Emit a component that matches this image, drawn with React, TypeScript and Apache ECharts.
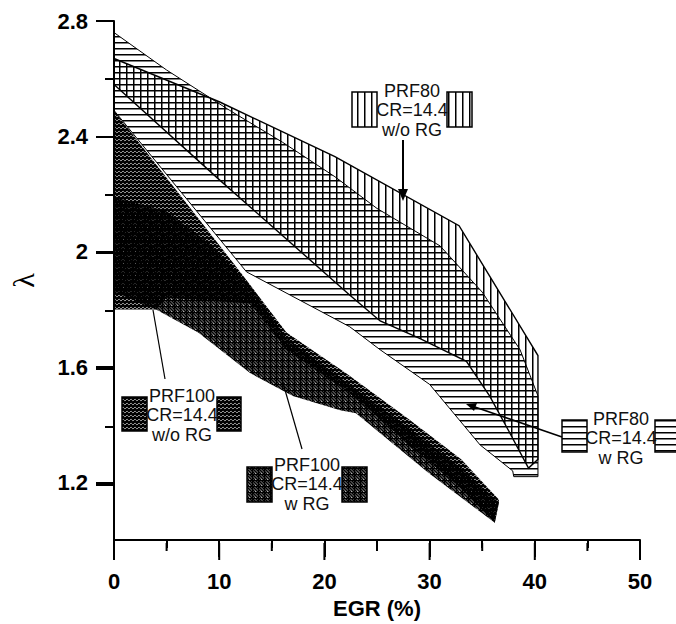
import React, { useEffect, useRef } from "react";
import * as echarts from "echarts";

// Axis ticks
const xTickValues = [0, 10, 20, 30, 40, 50];
const xMinorTicks = [5, 15, 25, 35, 45];
const yMajorTicks = [1.2, 1.6, 2.0, 2.4, 2.8];
const yMinorTicks = [1.4, 1.8, 2.2, 2.6];

// PRF80 CR=14.4 w/o RG (vertical hatch) – outline points
const prf80NoRgX = [0, 10, 21, 32.8, 40.3, 40.3, 39.4, 37.5, 35.7, 33.5, 29, 25.3, 22.4, 10, 0];
const prf80NoRgY = [2.67, 2.52, 2.33, 2.09, 1.64, 1.28, 1.25, 1.38, 1.5, 1.62, 1.7, 1.76, 1.85, 2.25, 2.58];

// PRF80 CR=14.4 w RG (horizontal hatch)
const prf80RgX = [0, 5, 11, 16, 21, 25, 31, 35, 38.6, 40.3, 40.3, 38, 37.9, 34.8, 30, 25.3, 22.4, 12.6, 0];
const prf80RgY = [2.76, 2.63, 2.49, 2.38, 2.26, 2.15, 2.02, 1.86, 1.66, 1.5, 1.22, 1.22, 1.24, 1.33, 1.54, 1.66, 1.74, 1.93, 2.49];

// PRF100 CR=14.4 w/o RG (dark diagonal hatch)
const prf100NoRgX = [0, 6, 12, 16.4, 22, 28, 33, 36.6, 36.2, 33, 28, 25, 22, 16.4, 13, 5, 4, 0];
const prf100NoRgY = [2.49, 2.21, 1.93, 1.72, 1.58, 1.42, 1.28, 1.14, 1.06, 1.18, 1.33, 1.43, 1.52, 1.66, 1.82, 1.84, 1.8, 1.8];

// PRF100 CR=14.4 w RG (dark cross hatch)
const prf100RgX = [0, 5, 9, 13, 16.4, 22, 28, 33, 36.6, 36.2, 30, 26, 23, 21.5, 17, 12.9, 8, 4, 0];
const prf100RgY = [2.19, 2.14, 2.03, 1.88, 1.7, 1.55, 1.39, 1.25, 1.13, 1.06, 1.23, 1.35, 1.44, 1.45, 1.5, 1.58, 1.72, 1.8, 1.86];

const labelPrf80NoRg = "PRF80\nCR=14.4\nw/o RG";
const labelPrf80Rg = "PRF80\nCR=14.4\nw RG";
const labelPrf100NoRg = "PRF100\nCR=14.4\nw/o RG";
const labelPrf100Rg = "PRF100\nCR=14.4\nw RG";

const SANS = "'Liberation Sans', Arial, Helvetica, sans-serif";
const Y_MIN = 1.0;
const Y_MAX = 2.8;
const CHART_W = 676;
const CHART_H = 624;
const GRID = { left: 114, right: 36, top: 21, bottom: 81 };

function makeTile(w: number, h: number, draw: (ctx: CanvasRenderingContext2D) => void) {
  const c = document.createElement("canvas");
  c.width = w;
  c.height = h;
  const ctx = c.getContext("2d") as CanvasRenderingContext2D;
  draw(ctx);
  return c;
}

function polygonSeries(name: string, xs: number[], ys: number[], fill: any, stroke: string | null, lw: number, z: number) {
  const data = xs.map((x, i) => [x, ys[i]]);
  return {
    type: "custom",
    name,
    data,
    z,
    silent: true,
    clip: false,
    renderItem: (params: any, api: any) => {
      if (params.dataIndex !== 0) return null;
      const pts = data.map((d) => api.coord(d));
      return {
        type: "polygon",
        shape: { points: pts },
        style: { fill, stroke: stroke || "none", lineWidth: lw },
      };
    },
  };
}

export default function App() {
  const ref = useRef<HTMLDivElement>(null);
  useEffect(() => {
    if (!ref.current) return;
    const chart = echarts.init(ref.current, null, { renderer: "svg" });

    const vertTile = makeTile(7, 7, (ctx) => {
      ctx.fillStyle = "#000";
      ctx.fillRect(0, 0, 1.5, 7);
    });
    const horizTile = makeTile(6, 6, (ctx) => {
      ctx.fillStyle = "#000";
      ctx.fillRect(0, 0, 6, 1.5);
    });
    const noRgTile = makeTile(4, 4, (ctx) => {
      ctx.strokeStyle = "#000";
      ctx.lineWidth = 2.7;
      ctx.beginPath();
      for (const k of [-4, 0, 4]) {
        ctx.moveTo(k, 4);
        ctx.lineTo(k + 4, 0);
      }
      ctx.stroke();
    });
    const rgTile = makeTile(6, 6, (ctx) => {
      ctx.fillStyle = "#000";
      ctx.fillRect(0, 0, 6, 1.2);
      ctx.fillRect(0, 0, 1.2, 6);
      ctx.strokeStyle = "#000";
      ctx.lineWidth = 1.7;
      ctx.beginPath();
      for (const k of [-6, -3, 0, 3, 6]) {
        ctx.moveTo(k, 0);
        ctx.lineTo(k + 6, 6);
      }
      ctx.stroke();
    });
    const vertPat = { image: vertTile, repeat: "repeat" };
    const horizPat = { image: horizTile, repeat: "repeat" };
    const noRgPat = { image: noRgTile, repeat: "repeat" };
    const rgPat = { image: rgTile, repeat: "repeat" };

    const labelStyle = () => ({ color: "#000", fontSize: 22, fontWeight: "bold", fontFamily: SANS });
    const ls = () => ({ color: "#000", width: 2 });

    const textEl = (x: number, y: number, text: string) => ({
      type: "text",
      x,
      y,
      z: 100,
      style: {
        text,
        fontSize: 18,
        fontFamily: SANS,
        fill: "#111",
        align: "center",
        verticalAlign: "middle",
        textAlign: "center",
        textVerticalAlign: "middle",
        lineHeight: 19.5,
      },
    });
    const boxEl = (x: number, y: number, w: number, h: number, fill: any) => ({
      type: "rect",
      z: 100,
      shape: { x, y, width: w, height: h },
      style: { fill, stroke: "#000", lineWidth: 1.5 },
    });
    const lineEl = (x1: number, y1: number, x2: number, y2: number, w: number) => ({
      type: "line",
      z: 100,
      shape: { x1, y1, x2, y2 },
      style: { stroke: "#000", lineWidth: w },
    });
    const arrowEl = (pts: number[][]) => ({
      type: "polygon",
      z: 100,
      shape: { points: pts },
      style: { fill: "#000" },
    });

    // tick marks along the grid edges (mapped linearly over the axis extents)
    const xMin = xTickValues[0];
    const xMax = xTickValues[xTickValues.length - 1];
    const plotW = CHART_W - GRID.left - GRID.right;
    const plotH = CHART_H - GRID.top - GRID.bottom;
    const axisY = GRID.top + plotH;
    const xPx = (v: number) => GRID.left + ((v - xMin) / (xMax - xMin)) * plotW;
    const yPx = (v: number) => GRID.top + ((Y_MAX - v) / (Y_MAX - Y_MIN)) * plotH;
    const tickEls: any[] = [];
    const xTick = (v: number, len: number) =>
      tickEls.push({ type: "rect", z: 120, shape: { x: xPx(v) - 1, y: axisY, width: 2, height: len }, style: { fill: "#000" } });
    const yTick = (v: number, len: number) =>
      tickEls.push({ type: "rect", z: 120, shape: { x: GRID.left - len, y: yPx(v) - 1, width: len, height: 2 }, style: { fill: "#000" } });
    xTickValues.forEach((v) => xTick(v, 17));
    xMinorTicks.forEach((v) => xTick(v, 8));
    yMajorTicks.forEach((v) => yTick(v, 18));
    yMinorTicks.forEach((v) => yTick(v, 9));

    chart.setOption({
      animation: false,
      grid: { ...GRID, containLabel: false },
      xAxis: {
        type: "value",
        min: xMin,
        max: xMax,
        interval: 10,
        axisLine: { show: true, onZero: false, lineStyle: ls() },
        axisTick: { show: true, length: 17, lineStyle: ls() },
        minorTick: { show: true, splitNumber: 2, length: 8, lineStyle: ls() },
        splitLine: { show: false },
        minorSplitLine: { show: false },
        axisLabel: { ...labelStyle(), margin: 30 },
        name: "EGR (%)",
        nameLocation: "middle",
        nameGap: 52,
        nameTextStyle: labelStyle(),
      },
      yAxis: {
        type: "value",
        min: Y_MIN,
        max: Y_MAX,
        axisLine: { show: true, onZero: false, lineStyle: ls() },
        axisTick: { show: true, length: 18, lineStyle: ls(), customValues: yMajorTicks },
        axisLabel: { ...labelStyle(), margin: 26, customValues: yMajorTicks },
        splitLine: { show: false },
        name: "λ",
        nameLocation: "middle",
        nameRotate: 90,
        nameGap: 76,
        nameTextStyle: { fontFamily: "'Liberation Serif', 'DejaVu Serif', serif", fontSize: 30, color: "#000" },
      },
      series: [
        polygonSeries("PRF80 CR=14.4 w RG", prf80RgX, prf80RgY, horizPat, "#000", 1, 2),
        polygonSeries("PRF80 CR=14.4 w/o RG", prf80NoRgX, prf80NoRgY, vertPat, "#000", 1.4, 3),
        polygonSeries("PRF100 CR=14.4 w/o RG", prf100NoRgX, prf100NoRgY, noRgPat, null, 0, 4),
        polygonSeries("PRF100 CR=14.4 w RG", prf100RgX, prf100RgY, rgPat, null, 0, 5),
      ],
      graphic: [
        ...tickEls,
        // PRF80 w/o RG
        boxEl(352, 92, 25, 35, vertPat),
        boxEl(447, 92, 25, 35, vertPat),
        textEl(412, 110, labelPrf80NoRg),
        lineEl(403, 140, 403, 192, 2),
        arrowEl([[398, 189], [408, 189], [403, 201]]),
        // PRF80 w RG
        boxEl(562, 420, 25, 32, horizPat),
        boxEl(655, 420, 25, 32, horizPat),
        textEl(621, 438, labelPrf80Rg),
        lineEl(562, 437, 472, 406, 1.5),
        arrowEl([[466, 404], [477, 403], [474, 411]]),
        // PRF100 w/o RG
        boxEl(122, 397, 25, 34, noRgPat),
        boxEl(217, 397, 24, 34, noRgPat),
        textEl(182, 415, labelPrf100NoRg),
        lineEl(165, 379, 153, 310, 1.2),
        // PRF100 w RG
        boxEl(247, 467, 25, 35, rgPat),
        boxEl(342, 467, 25, 35, rgPat),
        textEl(307, 484, labelPrf100Rg),
        lineEl(302, 449, 283, 383, 1.2),
      ],
    });

    return () => chart.dispose();
  }, []);
  return (
    <div
      ref={ref}
      style={{ position: "absolute", left: 0, top: 0, width: CHART_W, height: CHART_H, background: "#fff" }}
    />
  );
}
